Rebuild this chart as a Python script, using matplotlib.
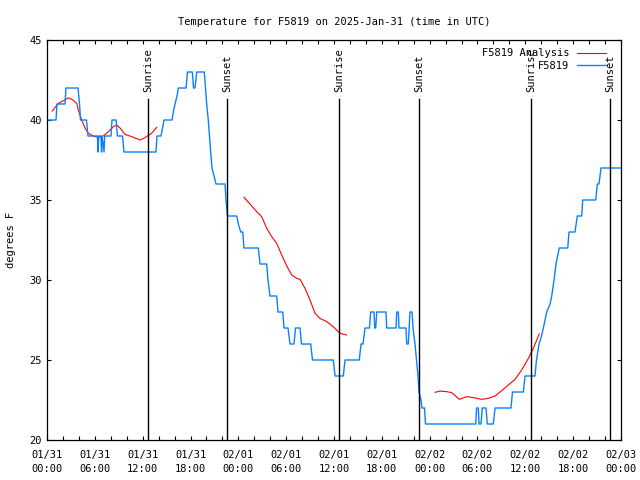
import numpy as np
import matplotlib
matplotlib.use("Agg")
import matplotlib.pyplot as plt
from matplotlib.ticker import MultipleLocator, FixedLocator

# hours since 01/31 00:00 UTC
obs_hours = [0.00, 1.13, 1.25, 2.26, 2.38, 3.89, 4.08, 4.20, 4.95, 5.14,
             6.33, 6.40, 6.49, 6.77, 6.84, 6.92, 7.15, 7.24, 8.03, 8.15,
             8.66, 8.84, 9.47, 9.66, 13.67, 13.80, 14.30, 14.49, 14.68, 15.68,
             15.84, 16.06, 16.31, 16.47, 17.44, 17.62, 18.23, 18.38, 18.56, 18.78,
             19.73, 19.88, 20.03, 20.23, 20.38, 20.53, 20.70, 20.95, 21.20, 22.33,
             22.45, 22.64, 23.80, 24.00, 24.30, 24.55, 24.71, 26.51, 26.72, 27.56,
             27.72, 27.97, 28.81, 28.98, 29.57, 29.73, 30.23, 30.48, 30.98, 31.17,
             31.74, 31.92, 33.08, 33.30, 35.91, 36.13, 37.17, 37.38, 39.17, 39.39,
             39.64, 39.89, 40.45, 40.60, 41.02, 41.11, 41.23, 41.36, 42.52, 42.61,
             43.78, 43.87, 44.07, 44.15, 45.03, 45.12, 45.32, 45.53, 45.79, 45.91,
             46.16, 46.35, 46.54, 46.66, 46.91, 47.04, 47.35, 47.48, 53.78, 53.88,
             54.10, 54.19, 54.44, 54.60, 55.07, 55.23, 55.98, 56.20, 58.20, 58.39,
             59.75, 59.96, 61.21, 61.40, 61.72, 62.03, 62.26, 62.68, 63.10, 63.31,
             63.60, 63.85, 64.26, 65.32, 65.48, 66.23, 66.52, 67.07, 67.20, 68.83,
             69.03, 69.24, 69.49, 72.00]
obs_temp = [40, 40, 41, 41, 42, 42, 41, 40, 40, 39,
            39, 38, 39, 39, 38, 39, 38, 39, 39, 40,
            40, 39, 39, 38, 38, 39, 39, 39.5, 40, 40,
            40.5, 41, 41.5, 42, 42, 43, 43, 42, 42, 43,
            43, 42, 41, 40, 39, 38, 37, 36.5, 36, 36,
            35, 34, 34, 33.5, 33, 33, 32, 32, 31, 31,
            30, 29, 29, 28, 28, 27, 27, 26, 26, 27,
            27, 26, 26, 25, 25, 24, 24, 25, 25, 26,
            26, 27, 27, 28, 28, 27, 27, 28, 28, 27,
            27, 28, 28, 27, 27, 26, 26, 28, 28, 27,
            26, 25, 24, 23, 22.5, 22, 22, 21, 21, 22,
            22, 21, 21, 22, 22, 21, 21, 22, 22, 23,
            23, 24, 24, 25, 26, 26.5, 27, 28, 28.5, 29,
            30, 31, 32, 32, 33, 33, 34, 34, 35, 35,
            36, 36, 37, 37]

# analysis, three separate runs
ana1_hours = [0.66, 1.42, 2.04, 2.67, 3.10, 3.73, 3.93, 4.35, 4.77, 5.18, 5.81, 6.44,
              7.06, 7.69, 8.32, 8.74, 9.16, 9.78, 10.62, 11.67, 12.29, 13.13, 13.76]
ana1_temp = [40.56, 41.04, 41.2, 41.38, 41.3, 41.04, 40.6, 40.0, 39.5, 39.17, 39.0, 38.9,
             39.0, 39.27, 39.58, 39.69, 39.5, 39.1, 38.96, 38.75, 38.9, 39.17, 39.54]
ana2_hours = [24.71, 25.46, 26.30, 26.93, 27.56, 28.19, 28.81, 29.44, 30.07, 30.70, 31.32,
              31.74, 32.36, 32.99, 33.62, 34.24, 35.09, 35.91, 36.54, 36.75, 37.59]
ana2_temp = [35.17, 34.75, 34.27, 33.96, 33.23, 32.71, 32.29, 31.56, 30.88, 30.31, 30.1,
             30.04, 29.48, 28.75, 27.92, 27.6, 27.4, 27.08, 26.77, 26.67, 26.56]
ana3_hours = [48.67, 49.30, 50.14, 50.77, 51.72, 52.65, 53.48, 54.53, 55.36, 56.20, 57.04,
              57.87, 58.71, 59.55, 60.38, 61.00, 61.75]
ana3_temp = [22.98, 23.06, 23.02, 22.96, 22.54, 22.71, 22.65, 22.54, 22.6, 22.75, 23.08,
             23.44, 23.79, 24.38, 25.1, 25.73, 26.63]

sun_hours = [12.71, 22.62, 36.67, 46.70, 60.71, 70.66]
sun_names = ["Sunrise", "Sunset", "Sunrise", "Sunset", "Sunrise", "Sunset"]

tick_labels = ["01/31\n00:00", "01/31\n06:00", "01/31\n12:00", "01/31\n18:00",
               "02/01\n00:00", "02/01\n06:00", "02/01\n12:00", "02/01\n18:00",
               "02/02\n00:00", "02/02\n06:00", "02/02\n12:00", "02/02\n18:00",
               "02/03\n00:00"]

plt.rcParams['font.family'] = ['DejaVu Sans Mono']
plt.rcParams['font.size'] = 7.5

fig = plt.figure(figsize=(6.4, 4.8), dpi=100)
ax = fig.add_axes([47 / 640, 40 / 480, 574 / 640, 400 / 480])

red = '#ff0000'
blue = '#0a80ff'
ax.plot(ana1_hours, ana1_temp, color=red, lw=0.8, label='F5819 Analysis')
ax.plot(ana2_hours, ana2_temp, color=red, lw=0.8)
ax.plot(ana3_hours, ana3_temp, color=red, lw=0.8)
ax.plot(obs_hours, obs_temp, color=blue, lw=1.0, label='F5819')

for h, name in zip(sun_hours, sun_names):
    ax.axvline(h, ymin=0, ymax=0.853, color='black', lw=1.0)
    ax.text(h, 41.75, name, rotation=90, ha='center', va='bottom', fontsize=7.5)

ax.set_xlim(0, 72)
ax.set_ylim(20, 45)
ax.xaxis.set_major_locator(FixedLocator(np.arange(0, 73, 6)))
ax.set_xticklabels(tick_labels)
for t in ax.get_xticklabels():
    t.set_linespacing(1.55)
ax.xaxis.set_minor_locator(MultipleLocator(2))
ax.yaxis.set_major_locator(MultipleLocator(5))
ax.tick_params(which='both', direction='in', top=True, right=True, length=3, width=0.8)
ax.tick_params(axis='x', pad=7)
for s in ax.spines.values():
    s.set_linewidth(0.9)

ax.set_ylabel('degrees F', labelpad=10)
ax.set_title('Temperature for F5819 on 2025-Jan-31 (time in UTC)', pad=11, fontsize=7.5)

ax.legend(loc='upper right', bbox_to_anchor=(1 - 9 / 574, 1 - 2 / 400), frameon=False,
          markerfirst=False, handlelength=2.8, handletextpad=0.7, borderaxespad=0.2,
          labelspacing=0.25)

fig.savefig('out.png', dpi=100)
